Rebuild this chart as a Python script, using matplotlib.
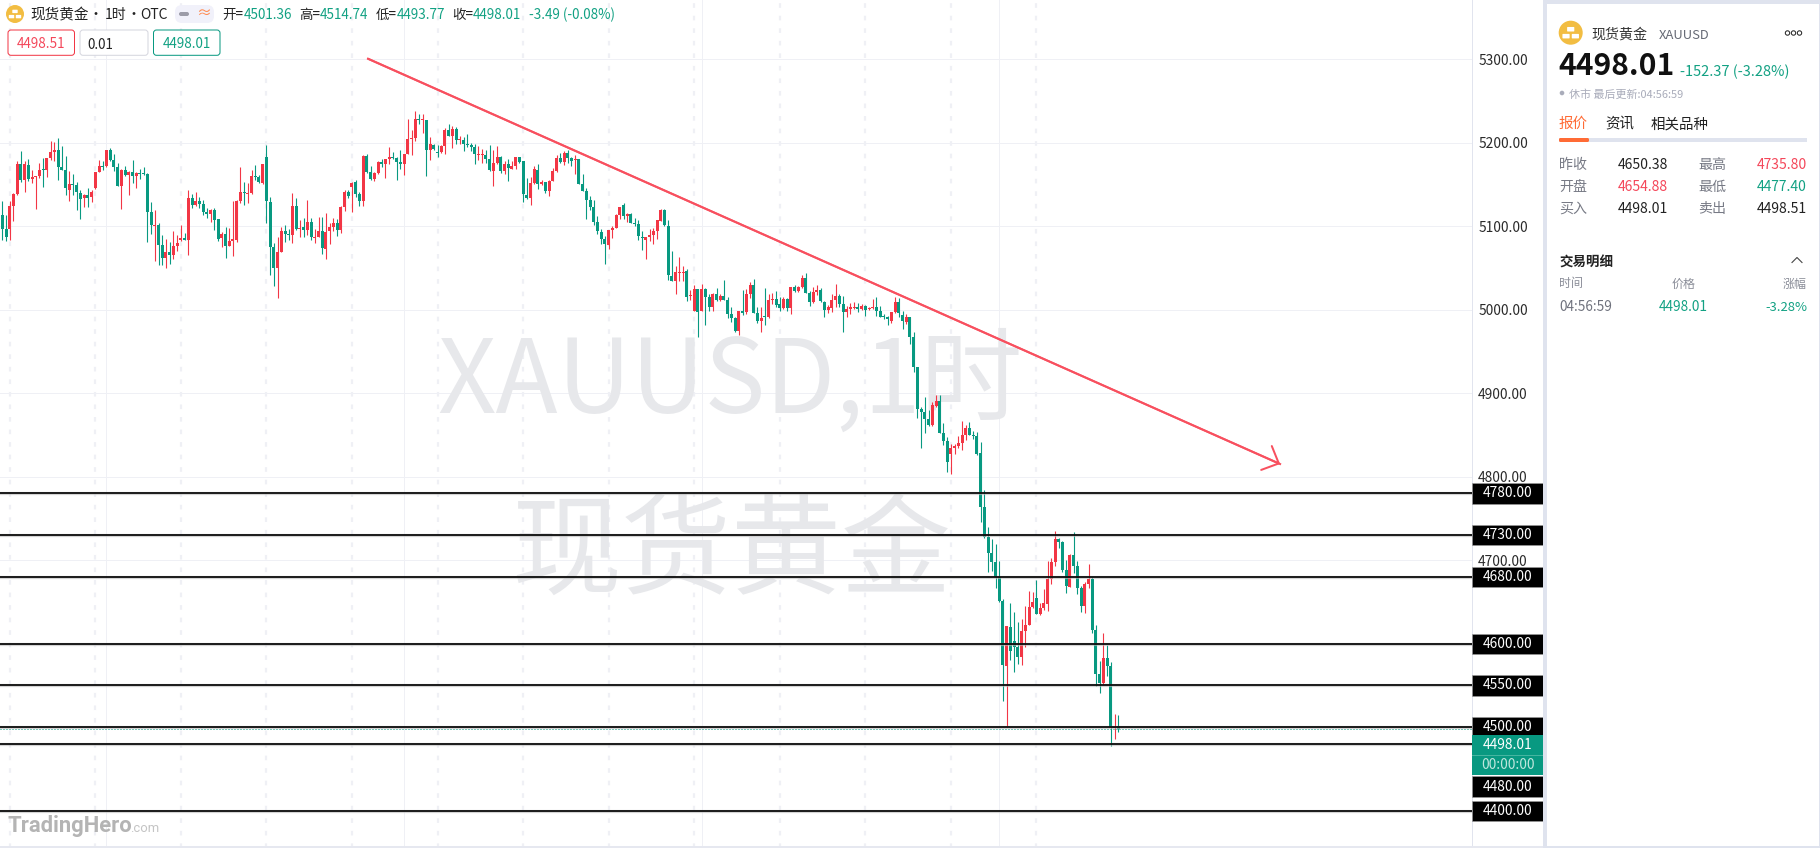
import matplotlib
matplotlib.use('Agg')
import matplotlib.pyplot as plt
import numpy as np
from matplotlib.patches import Circle, FancyBboxPatch, Rectangle

plt.rcParams['font.family'] = ['Noto Sans CJK SC', 'DejaVu Sans']

RED = '#f23645'
GREEN = '#089981'
TEXT_GREEN = '#12a183'
TEXT_RED = '#f4475a'
GRID = '#eff0f5'
PANEL = '#dfe3ee'

W, H = 1820, 848
TOP_5300 = 59.4  # pixel row of the 5300 level
PX_PER_USD = 0.8348
TEXT_DY = 1.3

# hourly candles
opens = [
    5114, 5097, 5097, 5124, 5139, 5175, 5156, 5174, 5157, 5159,
    5160, 5169, 5168, 5182, 5189, 5192, 5171, 5168, 5144, 5151,
    5150, 5140, 5134, 5138, 5135, 5146, 5165, 5172, 5172, 5192,
    5180, 5171, 5148, 5168, 5162, 5165, 5160, 5164, 5164, 5163,
    5117, 5100, 5102, 5078, 5062, 5069, 5066, 5076, 5084, 5086,
    5084, 5134, 5126, 5130, 5127, 5117, 5115, 5120, 5109, 5086,
    5091, 5076, 5082, 5084, 5130, 5141, 5139, 5140, 5160, 5159,
    5152, 5183, 5129, 5075, 5050, 5069, 5094, 5091, 5090, 5124,
    5097, 5099, 5096, 5105, 5086, 5087, 5094, 5073, 5094, 5099,
    5104, 5096, 5123, 5141, 5147, 5153, 5139, 5130, 5184, 5165,
    5157, 5164, 5177, 5175, 5181, 5183, 5182, 5177, 5175, 5187,
    5205, 5206, 5229, 5227, 5228, 5192, 5198, 5189, 5189, 5196,
    5216, 5208, 5217, 5203, 5204, 5199, 5198, 5195, 5186, 5186,
    5186, 5181, 5166, 5176, 5183, 5166, 5175, 5169, 5172, 5183,
    5178, 5138, 5134, 5152, 5168, 5151, 5153, 5142, 5154, 5166,
    5182, 5177, 5188, 5182, 5180, 5181, 5151, 5142, 5132, 5123,
    5105, 5093, 5085, 5078, 5096, 5098, 5114, 5125, 5112, 5115,
    5104, 5103, 5087, 5084, 5087, 5090, 5095, 5107, 5119, 5101,
    5041, 5035, 5044, 5044, 5047, 5017, 4999, 5025, 4999, 5025,
    5015, 5003, 5019, 5012, 5017, 5012, 4995, 4990, 4975, 4999,
    4997, 5019, 5030, 4996, 4987, 4993, 4992, 5012, 5013, 5007,
    5002, 5013, 5002, 5027, 5023, 5027, 5038, 5020, 5009, 5021,
    5024, 5009, 5000, 5002, 5012, 5017, 5007, 4997, 5001, 5002,
    5003, 5001, 5005, 5001, 5002, 5003, 4999, 4993, 4991, 4987,
    4997, 5009, 4994, 4986, 4992, 4968, 4931, 4881, 4878, 4869,
    4862, 4885, 4891, 4853, 4843, 4827, 4834, 4837, 4840, 4850,
    4858, 4850, 4849, 4828, 4764, 4728, 4709, 4698, 4680, 4651,
    4573, 4620, 4603, 4596, 4584, 4615, 4622, 4644, 4655, 4636,
    4643, 4648, 4678, 4698, 4726, 4722, 4688, 4668, 4706, 4693,
    4667, 4645, 4672, 4678, 4616, 4564, 4553, 4583, 4573, 4499,
    4501.36,
]
highs = [
    5130, 5114, 5130, 5140, 5178, 5190, 5178, 5181, 5168, 5160,
    5176, 5182, 5182, 5202, 5201, 5206, 5196, 5184, 5166, 5163,
    5153, 5144, 5139, 5146, 5144, 5165, 5180, 5178, 5192, 5194,
    5187, 5176, 5169, 5172, 5166, 5180, 5165, 5169, 5171, 5164,
    5129, 5120, 5104, 5090, 5085, 5081, 5094, 5090, 5102, 5092,
    5144, 5139, 5141, 5135, 5132, 5122, 5121, 5122, 5109, 5093,
    5099, 5098, 5130, 5132, 5171, 5153, 5152, 5168, 5174, 5162,
    5175, 5198, 5135, 5080, 5087, 5099, 5102, 5097, 5140, 5134,
    5108, 5110, 5132, 5110, 5097, 5111, 5111, 5116, 5104, 5110,
    5109, 5124, 5144, 5144, 5153, 5156, 5141, 5186, 5187, 5172,
    5165, 5178, 5181, 5181, 5195, 5189, 5183, 5192, 5187, 5229,
    5215, 5238, 5235, 5235, 5228, 5207, 5199, 5198, 5198, 5218,
    5223, 5220, 5219, 5208, 5207, 5211, 5200, 5199, 5196, 5193,
    5192, 5197, 5192, 5196, 5184, 5178, 5181, 5178, 5183, 5183,
    5178, 5158, 5159, 5172, 5175, 5156, 5153, 5156, 5170, 5186,
    5188, 5190, 5192, 5183, 5186, 5181, 5163, 5146, 5136, 5132,
    5112, 5097, 5089, 5096, 5101, 5115, 5123, 5128, 5116, 5116,
    5110, 5108, 5095, 5087, 5097, 5098, 5108, 5121, 5121, 5108,
    5071, 5053, 5063, 5053, 5049, 5024, 5030, 5025, 5031, 5026,
    5019, 5020, 5026, 5019, 5036, 5015, 5003, 4991, 4999, 5024,
    5025, 5033, 5037, 5003, 5003, 5026, 5019, 5020, 5023, 5015,
    5015, 5014, 5027, 5030, 5029, 5042, 5044, 5023, 5027, 5030,
    5026, 5011, 5006, 5019, 5031, 5019, 5017, 5005, 5008, 5009,
    5008, 5007, 5006, 5003, 5013, 5015, 5005, 4995, 4993, 4997,
    5015, 5014, 4999, 4995, 4992, 4974, 4932, 4884, 4895, 4880,
    4890, 4898, 4898, 4865, 4848, 4839, 4839, 4849, 4867, 4862,
    4866, 4855, 4854, 4842, 4784, 4740, 4726, 4720, 4699, 4654,
    4621, 4649, 4638, 4626, 4630, 4645, 4663, 4662, 4676, 4649,
    4665, 4699, 4703, 4735, 4727, 4723, 4700, 4708, 4734, 4699,
    4669, 4674, 4696, 4680, 4622, 4579, 4613, 4598, 4578, 4516,
    4514.74,
]
lows = [
    5084, 5082, 5084, 5106, 5138, 5153, 5141, 5154, 5152, 5121,
    5158, 5147, 5159, 5180, 5178, 5156, 5168, 5138, 5130, 5138,
    5120, 5109, 5123, 5123, 5129, 5145, 5165, 5168, 5171, 5178,
    5166, 5148, 5121, 5160, 5138, 5152, 5146, 5157, 5162, 5081,
    5091, 5058, 5054, 5054, 5050, 5055, 5061, 5070, 5082, 5084,
    5066, 5122, 5124, 5122, 5114, 5110, 5105, 5096, 5082, 5075,
    5062, 5076, 5064, 5081, 5128, 5126, 5128, 5139, 5156, 5152,
    5151, 5104, 5042, 5028, 5014, 5069, 5081, 5084, 5080, 5096,
    5087, 5087, 5090, 5084, 5080, 5087, 5067, 5061, 5079, 5094,
    5088, 5092, 5118, 5134, 5117, 5135, 5124, 5124, 5164, 5156,
    5154, 5163, 5171, 5158, 5175, 5181, 5156, 5169, 5162, 5187,
    5185, 5202, 5223, 5212, 5160, 5180, 5192, 5183, 5188, 5187,
    5208, 5194, 5199, 5199, 5190, 5195, 5190, 5175, 5180, 5176,
    5176, 5166, 5148, 5175, 5164, 5163, 5154, 5169, 5169, 5176,
    5129, 5133, 5126, 5151, 5145, 5150, 5140, 5136, 5154, 5165,
    5176, 5174, 5176, 5172, 5163, 5151, 5142, 5109, 5120, 5102,
    5091, 5079, 5055, 5073, 5086, 5098, 5109, 5109, 5105, 5104,
    5101, 5084, 5072, 5061, 5082, 5079, 5085, 5107, 5101, 5036,
    5035, 5019, 5035, 5035, 5011, 5012, 4999, 4967, 4999, 4982,
    4999, 4999, 5011, 5011, 5012, 4990, 4985, 4973, 4970, 4994,
    4995, 5014, 4996, 4984, 4973, 4982, 4990, 5007, 5004, 4999,
    5001, 4999, 4995, 5021, 5021, 5026, 5020, 5005, 5008, 5018,
    5009, 4991, 4996, 4997, 5003, 5003, 4973, 4991, 4995, 5001,
    4997, 5000, 4993, 5000, 5001, 4993, 4991, 4989, 4982, 4984,
    4996, 4991, 4977, 4983, 4959, 4925, 4871, 4835, 4853, 4861,
    4861, 4884, 4853, 4838, 4806, 4803, 4827, 4834, 4832, 4844,
    4850, 4845, 4826, 4746, 4727, 4686, 4687, 4667, 4650, 4531,
    4502, 4581, 4566, 4576, 4574, 4596, 4622, 4643, 4636, 4635,
    4641, 4639, 4671, 4693, 4715, 4686, 4661, 4668, 4685, 4660,
    4638, 4637, 4667, 4613, 4549, 4541, 4552, 4561, 4477.4, 4486,
    4493.77,
]
closes = [
    5097, 5087, 5124, 5139, 5175, 5155, 5175, 5157, 5159, 5160,
    5168, 5168, 5182, 5189, 5192, 5171, 5168, 5146, 5151, 5150,
    5141, 5133, 5138, 5134, 5141, 5165, 5172, 5171, 5192, 5180,
    5171, 5148, 5168, 5162, 5165, 5160, 5164, 5163, 5163, 5117,
    5102, 5102, 5078, 5062, 5069, 5066, 5076, 5080, 5086, 5084,
    5134, 5126, 5130, 5127, 5117, 5115, 5120, 5108, 5085, 5091,
    5076, 5082, 5085, 5130, 5141, 5140, 5140, 5160, 5159, 5153,
    5175, 5130, 5075, 5050, 5069, 5094, 5091, 5090, 5124, 5097,
    5098, 5096, 5105, 5087, 5087, 5094, 5074, 5093, 5099, 5104,
    5096, 5123, 5141, 5136, 5152, 5139, 5130, 5184, 5165, 5157,
    5164, 5177, 5175, 5181, 5183, 5182, 5177, 5175, 5187, 5205,
    5206, 5229, 5228, 5228, 5192, 5199, 5193, 5188, 5196, 5216,
    5208, 5217, 5204, 5204, 5199, 5198, 5195, 5187, 5187, 5187,
    5181, 5168, 5176, 5183, 5166, 5175, 5170, 5172, 5183, 5177,
    5139, 5134, 5152, 5169, 5151, 5153, 5142, 5154, 5166, 5182,
    5177, 5188, 5182, 5178, 5181, 5151, 5142, 5132, 5123, 5105,
    5094, 5085, 5079, 5096, 5098, 5114, 5123, 5112, 5115, 5104,
    5103, 5089, 5086, 5087, 5090, 5095, 5108, 5119, 5102, 5042,
    5035, 5045, 5045, 5045, 5015, 5018, 5025, 4998, 5025, 5015,
    5003, 5019, 5012, 5017, 5012, 4995, 4990, 4975, 4999, 4996,
    5019, 5030, 4996, 4987, 4990, 4991, 5012, 5013, 5006, 5002,
    5013, 5002, 5027, 5023, 5027, 5038, 5020, 5009, 5021, 5024,
    5011, 5000, 5003, 5012, 5017, 5007, 4997, 5001, 5003, 5003,
    5001, 5005, 5000, 5002, 5003, 4999, 4991, 4991, 4989, 4997,
    5009, 4996, 4987, 4992, 4968, 4931, 4881, 4878, 4869, 4862,
    4886, 4891, 4853, 4843, 4818, 4834, 4837, 4840, 4850, 4858,
    4850, 4849, 4827, 4764, 4728, 4709, 4698, 4680, 4651, 4575,
    4621, 4591, 4596, 4584, 4615, 4622, 4644, 4650, 4636, 4643,
    4649, 4678, 4698, 4726, 4722, 4688, 4669, 4706, 4693, 4667,
    4645, 4672, 4678, 4616, 4564, 4553, 4583, 4573, 4500, 4500,
    4498.01,
]

grid_prices = [5300, 5200, 5100, 5000, 4900, 4800, 4700, 4600, 4500, 4400]
# 4600, 4500 and 4400 sit behind their level tags, so no scale text for them
price_ticks = [5300, 5200, 5100, 5000, 4900, 4800, 4700]
levels = [4780, 4730, 4680, 4600, 4550, 4500, 4480, 4400]
# where each level's tag sits on the scale (4480 gets pushed down by the last price tag)
level_tags = [4780, 4730, 4680, 4600, 4550, 4500, 4429, 4400]
last_price = 4498.01
trend_start = (98.3, 5300.8)
trend_end = (343.5, 4815.3)
dashed_bars = [2, 25, 48, 71, 94, 117, 140, 163, 186, 209, 232, 255, 278]
solid_bars = [28, 108, 188, 268]

stats = [
    ('昨收', '4650.38', '#222222', '最高', '4735.80', TEXT_RED),
    ('开盘', '4654.88', TEXT_RED, '最低', '4477.40', TEXT_GREEN),
    ('买入', '4498.01', '#222222', '卖出', '4498.51', '#222222'),
]
ohlc_legend = [('开=', '4501.36', 222.5, 243.5), ('高=', '4514.74', 299, 320),
               ('低=', '4493.77', 376, 396.5), ('收=', '4498.01', 452.5, 473)]


def px(n):
    # pixels to points at dpi 100
    return n * 0.72


def label(ui, x, y, s, size, color, **kw):
    kw.setdefault('va', 'center')
    ui.text(x, y + TEXT_DY, s, fontsize=px(size), color=color, zorder=7, **kw)


def gold_icon(ui, x, y, r):
    ui.add_patch(Circle((x, y), r, fc='#f2bd42', ec='none', zorder=5))
    s = r / 9
    for dx, dy in [(0, -2.6), (-3.5, 2.6), (3.5, 2.6)]:
        ui.add_patch(FancyBboxPatch((x + (dx - 2.7) * s, y + (dy - 1.7) * s), 5.4 * s, 3.4 * s,
                                    boxstyle='round,pad=0,rounding_size=0.6', fc='white', ec='none', zorder=6))


def rounded(ui, x0, y0, x1, y1, fc, ec, r=3, lw=1.0, zorder=5):
    ui.add_patch(FancyBboxPatch((x0, y0), x1 - x0, y1 - y0, boxstyle='round,pad=0,rounding_size=%s' % r,
                                fc=fc, ec=ec, lw=px(lw), zorder=zorder))


def draw_candles(ax):
    x = np.arange(len(opens))
    o = np.array(opens)
    c = np.array(closes)
    colors = np.where(c < o, GREEN, RED)
    ax.vlines(x, lows, highs, colors=colors, lw=px(1.1), zorder=3)
    ax.bar(x, np.maximum(np.abs(c - o), 1.2), bottom=np.minimum(o, c), width=0.8, color=colors, lw=0, zorder=3)


def draw_chart(ax):
    ax.set_xticks([])
    ax.set_yticks([])
    for s in ax.spines.values():
        s.set_visible(False)
    for p in grid_prices:
        ax.axhline(p, color=GRID, lw=px(1), zorder=0.5)
    for b in dashed_bars:
        ax.axvline(b, color=GRID, lw=px(2.2), ls=(0, (2.1, 3.6)), zorder=0.5)
    for b in solid_bars:
        ax.axvline(b, color=GRID, lw=px(1), zorder=0.5)

    # watermark
    wm = dict(color='#e7e8eb', zorder=1, ha='center', va='baseline')
    ax.text((730 - 2.3) / 3.72, 5300 - (413 - TOP_5300) / PX_PER_USD, 'XAUUSD,1时', fontsize=px(102), **wm)
    ax.text((731 - 2.3) / 3.72, 5300 - (586 - TOP_5300) / PX_PER_USD, '现货黄金', fontsize=px(110), **wm)

    draw_candles(ax)

    for p in levels:
        ax.axhline(p, color='#b8b8b8', lw=px(3.2), alpha=0.6, zorder=4)
        ax.axhline(p, color='black', lw=px(1.7), zorder=4.1)
    ax.axhline(last_price, color=GREEN, lw=px(1), ls=(0, (1, 2)), zorder=4.2)

    ax.plot([trend_start[0], trend_end[0]], [trend_start[1], trend_end[1]], color='#f8505f', lw=px(2), zorder=4.5)
    ax.annotate('', xy=trend_end, xytext=trend_start,
                arrowprops=dict(arrowstyle='->,head_length=0.97,head_width=0.94', mutation_scale=10,
                                color='#f8505f', lw=px(2), shrinkA=0, shrinkB=0), zorder=4.5)


def draw_scale(axp):
    axp.set_xlim(0, 71)
    axp.set_xticks([])
    axp.yaxis.tick_left()
    axp.set_yticks(price_ticks)
    axp.set_yticklabels(['%.2f' % p for p in price_ticks])
    axp.tick_params(axis='y', direction='in', length=0, pad=-4.5, labelsize=px(13.8), labelcolor='#2a2a2a')
    for t in axp.get_yticklabels():
        t.set_horizontalalignment('left')
    for s in axp.spines.values():
        s.set_visible(False)
    axp.axvline(0, color='#e1e4ee', lw=px(2), zorder=1)

    for tag, p in zip(level_tags, levels):
        axp.add_patch(Rectangle((0, tag - 12), 71, 24, fc='black', ec='#9a9a9a', lw=px(0.6), zorder=3))
        axp.text(35.5, tag, '%.2f' % p, color='white', fontsize=px(13.8), ha='center', va='center', zorder=4)
    axp.add_patch(Rectangle((0, 4443), 71, 48, fc=GREEN, ec='none', zorder=5))
    axp.axhline(4467, color='#46b5a0', lw=px(1), zorder=6)
    axp.text(35.5, 4479, '%.2f' % last_price, color='white', fontsize=px(13.8), ha='center', va='center', zorder=6)
    axp.text(35.5, 4455, '00:00:00', color='#bfe6dd', fontsize=px(13.8), ha='center', va='center', zorder=6)


def draw_header(ui):
    gold_icon(ui, 15, 14, 9)
    label(ui, 30.5, 14, '现货黄金', 14.6, '#222222')
    label(ui, 96, 14, '•', 14, '#222222', ha='center')
    label(ui, 104.5, 14, '1时', 14, '#222222')
    label(ui, 134, 14, '•', 14, '#222222', ha='center')
    label(ui, 140.5, 14, 'OTC', 14, '#222222')
    rounded(ui, 175, 5, 214, 23, '#f1f1fa', 'none', r=7)
    rounded(ui, 179, 12, 189, 16, '#9c9ca8', 'none', r=2, zorder=6)
    label(ui, 204, 13, '≈', 15, '#ff8a50', ha='center')
    for lab, val, x0, x1 in ohlc_legend:
        label(ui, x0, 14, lab, 13.5, '#222222')
        label(ui, x1, 14, val, 13.5, TEXT_GREEN)
    label(ui, 529, 14, '-3.49 (-0.08%)', 13.5, TEXT_GREEN)

    rounded(ui, 8, 30, 74.5, 55.3, 'white', RED)
    label(ui, 41, 43, '4498.51', 13.5, TEXT_RED, ha='center')
    rounded(ui, 80, 30, 148, 55.3, 'white', '#d5d6de')
    label(ui, 87, 43.5, '0.01', 13.5, '#222222')
    rounded(ui, 153.5, 30, 220, 55.3, 'white', GREEN)
    label(ui, 186.7, 43, '4498.01', 13.5, TEXT_GREEN, ha='center')

    label(ui, 8, 825, 'TradingHero', 22, '#b4b4b4', fontweight='bold', family='Roboto')
    label(ui, 130, 827, '.com', 13, '#c4c4c4', family='Roboto')


def draw_sidebar(ui):
    ui.add_patch(Rectangle((1543, 0), 277, H, fc=PANEL, ec='none', zorder=2))
    ui.add_patch(Rectangle((1547, 4), 272, H - 6, fc='white', ec='none', zorder=3))
    ui.add_patch(Rectangle((0, 846), 1543, 2, fc='#e6e8f0', ec='none', zorder=3))

    gold_icon(ui, 1570.7, 32.7, 12)
    label(ui, 1591.5, 33.5, '现货黄金', 14, '#333333')
    label(ui, 1659, 34, 'XAUUSD', 13, '#666a75')
    for dx in [1787.5, 1793.5, 1799.5]:
        ui.add_patch(Circle((dx, 33), 2.2, fc='white', ec='#222222', lw=px(1), zorder=6))

    label(ui, 1558.5, 65, '4498.01', 30, '#111111', fontweight='bold')
    label(ui, 1680, 71, '-152.37 (-3.28%)', 14.6, TEXT_GREEN)
    ui.add_patch(Circle((1562, 93), 2.3, fc='#a9acba', ec='none', zorder=6))
    label(ui, 1569, 93, '休市 最后更新:04:56:59', 11, '#a9acba')

    label(ui, 1559, 123, '报价', 14.5, '#ff6b35')
    label(ui, 1605.5, 123, '资讯', 14.5, '#222222')
    label(ui, 1651, 123, '相关品种', 14.5, '#222222')
    ui.add_patch(Rectangle((1559, 138), 248, 4, fc=PANEL, ec='none', zorder=5))
    rounded(ui, 1559, 138, 1589, 142, '#ff6b35', 'none', r=1.5, zorder=6)

    for row_y, row in zip([163.3, 185.7, 207.3], stats):
        lab1, val1, col1, lab2, val2, col2 = row
        label(ui, 1559, row_y, lab1, 14, '#777a85')
        label(ui, 1617.3, row_y, val1, 14, col1)
        label(ui, 1698.5, row_y, lab2, 14, '#777a85')
        label(ui, 1807, row_y, val2, 14, col2, ha='right')

    label(ui, 1559, 261, '交易明细', 13.5, '#222222', fontweight='bold')
    ui.plot([1792, 1797, 1802], [262.5, 257.5, 262.5], color='#444444', lw=px(1.1), zorder=6)
    label(ui, 1559, 282.7, '时间', 12, '#8a8d98')
    label(ui, 1671.5, 282.7, '价格', 12, '#8a8d98')
    label(ui, 1807, 282.7, '涨幅', 12, '#8a8d98', ha='right')
    label(ui, 1559, 306, '04:56:59', 13.6, '#6f727d')
    label(ui, 1658.7, 306, '4498.01', 13.6, TEXT_GREEN)
    label(ui, 1807, 306, '-3.28%', 13, TEXT_GREEN, ha='right')


def main():
    fig = plt.figure(figsize=(W / 100, H / 100), dpi=100, facecolor='white')
    ymax = 5300 + TOP_5300 / PX_PER_USD
    ymin = 5300 - (H - TOP_5300) / PX_PER_USD

    ax = fig.add_axes([0, 0, 1472 / W, 1])
    ax.set_xlim(-2.3 / 3.72, (1472 - 2.3) / 3.72)
    ax.set_ylim(ymin, ymax)
    draw_chart(ax)

    axp = fig.add_axes([1472 / W, 0, 71 / W, 1], facecolor='white')
    axp.set_ylim(ymin, ymax)
    draw_scale(axp)

    ui = fig.add_axes([0, 0, 1, 1], facecolor='none')
    ui.set_xlim(0, W)
    ui.set_ylim(H, 0)
    ui.axis('off')
    draw_sidebar(ui)
    draw_header(ui)

    fig.savefig('out.png', dpi=100)


main()
